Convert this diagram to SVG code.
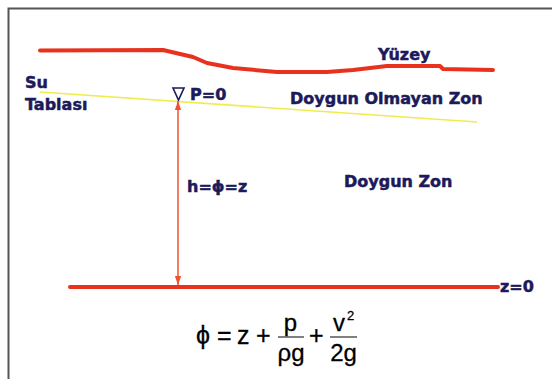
<svg xmlns="http://www.w3.org/2000/svg" width="552" height="379" viewBox="0 0 552 379">
<defs>
<style>
.lbl{font-family:"DejaVu Sans",Verdana,sans-serif;font-weight:bold;font-size:16px;fill:#1c1a5a;stroke:#1c1a5a;stroke-width:0.5}
.eq{font-family:"Liberation Sans",Arial,sans-serif;fill:#000;stroke:#000;stroke-width:0.3}
.red{fill:none;stroke:#e8321e;stroke-width:4;stroke-linejoin:round;stroke-linecap:round}
</style>
<marker id="ah" viewBox="0 0 10 10" refX="10" refY="5" markerWidth="6" markerHeight="6" orient="auto-start-reverse">
<path d="M0,1.5 L10,5 L0,8.5 z" fill="#f05030"/>
</marker>
</defs>
<rect width="552" height="379" fill="#fff"/>
<path d="M8.5,379 V8.5 H552" fill="none" stroke="#555" stroke-width="2"/>
<g id="yuzey">
<path class="red" d="M40,50.5 L163,50 L193,57 L207,63 L233,68 L277,72 L327,72 L353,70 L387,66 L440,66 L443,69 L493,70"/>
<text class="lbl" x="378" y="60">Yüzey</text>
</g>
<g id="su-tablasi">
<line x1="40" y1="92" x2="477" y2="122" stroke="#f0ec50" stroke-width="1.6"/>
<text class="lbl" x="25" y="88">Su</text>
<text class="lbl" x="25" y="110">Tablası</text>
<path d="M173,88 L184,88 L178.5,100 z" fill="none" stroke="#1c1a5a" stroke-width="1.6"/>
<text class="lbl" x="190" y="100">P=0</text>
</g>
<g id="zones">
<text class="lbl" x="290" y="104">Doygun Olmayan Zon</text>
<text class="lbl" x="344" y="187">Doygun Zon</text>
</g>
<g id="datum">
<line class="red" x1="70" y1="287" x2="498" y2="287"/>
<text class="lbl" x="500" y="292">z=0</text>
</g>
<g id="connectors">
<line x1="178" y1="101" x2="178" y2="285" stroke="#f05030" stroke-width="1.5" marker-start="url(#ah)" marker-end="url(#ah)"/>
<text class="lbl" x="187" y="192">h=ϕ=z</text>
</g>
<g id="formula">
<text class="eq" x="196" y="344" font-size="25">ϕ</text>
<text class="eq" x="217" y="344" font-size="25">=</text>
<text class="eq" x="237" y="344" font-size="25">z</text>
<text class="eq" x="256" y="344" font-size="25">+</text>
<text class="eq" x="290.5" y="331" font-size="24" text-anchor="middle">p</text>
<line x1="278" y1="337" x2="304" y2="337" stroke="#000" stroke-width="1"/>
<text class="eq" x="291" y="361" font-size="24" text-anchor="middle">ρg</text>
<text class="eq" x="309" y="344" font-size="25">+</text>
<text class="eq" x="339" y="331" font-size="24" text-anchor="middle">v</text>
<text class="eq" x="347" y="320" font-size="13">2</text>
<line x1="330" y1="337" x2="357" y2="337" stroke="#000" stroke-width="1"/>
<text class="eq" x="343.5" y="361" font-size="24" text-anchor="middle">2g</text>
</g>
</svg>
